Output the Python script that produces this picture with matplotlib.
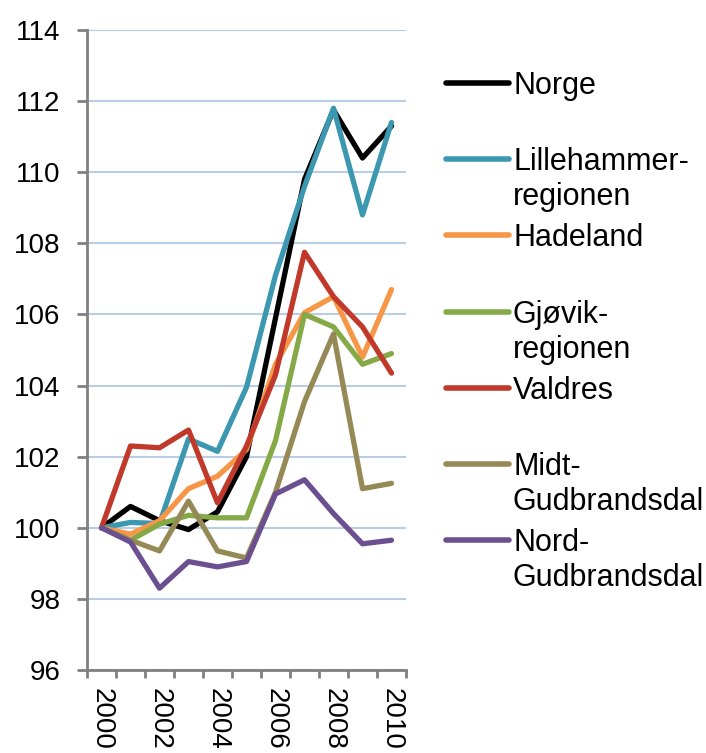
# Befolkningsutvikling, indeks 2000 = 100

import matplotlib
matplotlib.use('Agg')
import matplotlib.pyplot as plt
from matplotlib.lines import Line2D

# Data
years = list(range(2000, 2011))
year_labels = ['2000', '2002', '2004', '2006', '2008', '2010']
series_names = ['Norge', 'Lillehammer-\nregionen', 'Hadeland', 'Gjøvik-\nregionen',
                'Valdres', 'Midt-\nGudbrandsdal', 'Nord-\nGudbrandsdal']
norge = [100, 100.6, 100.2, 99.95, 100.45, 102.0, 105.9, 109.8, 111.75, 110.4, 111.3]
lillehammer = [100, 100.15, 100.12, 102.5, 102.15, 103.95, 107.1, 109.6, 111.8, 108.8, 111.4]
hadeland = [100, 99.82, 100.2, 101.1, 101.45, 102.2, 104.6, 106.05, 106.5, 104.8, 106.7]
gjovik = [100, 99.65, 100.1, 100.35, 100.28, 100.28, 102.45, 106.0, 105.65, 104.6, 104.9]
valdres = [100, 102.3, 102.25, 102.75, 100.7, 102.3, 104.3, 107.75, 106.5, 105.65, 104.35]
midt = [100, 99.65, 99.35, 100.75, 99.35, 99.15, 101.0, 103.55, 105.45, 101.1, 101.25]
nord = [100, 99.6, 98.3, 99.05, 98.9, 99.05, 100.95, 101.35, 100.4, 99.55, 99.65]
y_ticks = [96, 98, 100, 102, 104, 106, 108, 110, 112, 114]

colors = ['#000000', '#3c97b0', '#f79646', '#86a948', '#c0392b', '#958a55', '#6b4f91']
all_series = [norge, lillehammer, hadeland, gjovik, valdres, midt, nord]

plt.rcParams['font.family'] = ['Liberation Sans', 'DejaVu Sans']

W, H = 706, 753
fig = plt.figure(figsize=(W / 100, H / 100), dpi=100)
ax = fig.add_axes([87 / W, 1 - 670 / H, (406 - 87) / W, 640 / H])

x = list(range(len(years)))
for vals, c in zip(all_series, colors):
    ax.plot(x, vals, color=c, lw=3.8, solid_joinstyle='round', solid_capstyle='round',
            clip_on=False)

ax.set_xlim(-0.5, len(years) - 0.5)
ax.set_ylim(96, 114)
ax.set_yticks(y_ticks)
ax.set_yticklabels([str(v) for v in y_ticks], fontsize=20)
ax.yaxis.grid(True, color='#b9cde5', lw=1.5)
ax.set_axisbelow(True)

# category axis: tick marks between slots, labels on every second year
ax.set_xticks([i - 0.5 for i in range(len(years) + 1)])
ax.set_xticklabels([])
label_pos = [years.index(int(s)) for s in year_labels]
ax.set_xticks(label_pos, minor=True)
ax.set_xticklabels(year_labels, minor=True, rotation=270, fontsize=20, va='top', ha='center')
ax.tick_params(axis='x', which='major', length=6, width=2, color='#808080', direction='out')
ax.tick_params(axis='x', which='minor', length=0, pad=13)
ax.tick_params(axis='y', length=7, width=2, color='#808080', direction='out', pad=12)

for s in ['top', 'right']:
    ax.spines[s].set_visible(False)
for s in ['left', 'bottom']:
    ax.spines[s].set_color('#808080')
    ax.spines[s].set_linewidth(2)

# legend, drawn by hand so the swatch sits on the first text line
leg_y0, leg_dy, line_h = 83, 76.2, 35
for i, (name, c) in enumerate(zip(series_names, colors)):
    yy = leg_y0 + i * leg_dy
    fig.add_artist(Line2D([446 / W, 509 / W], [1 - yy / H, 1 - yy / H], color=c, lw=4,
                          solid_capstyle='round', transform=fig.transFigure))
    for k, part in enumerate(name.split('\n')):
        fig.text(513 / W, 1 - (yy + 11 + k * line_h) / H, part, fontsize=22,
                 va='baseline', ha='left')

fig.savefig('out.png', dpi=100)
